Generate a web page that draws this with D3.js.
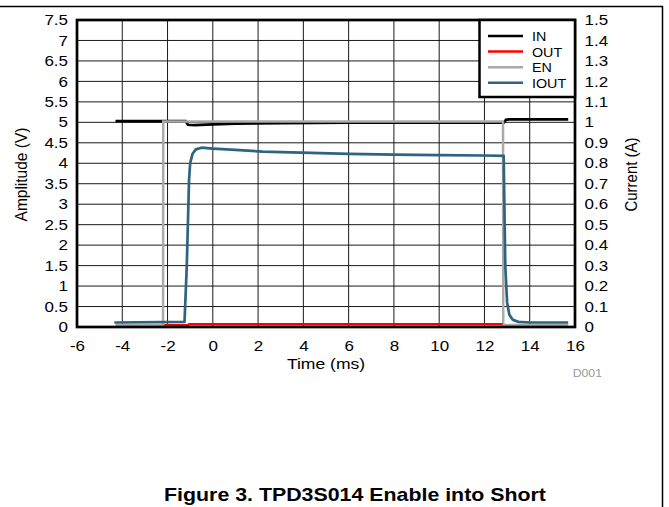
<!DOCTYPE html>
<html><head><meta charset="utf-8">
<script src="https://cdn.jsdelivr.net/npm/d3@7"></script>
<style>
body{margin:0;background:#fff;}
svg, svg text{font-family:"Liberation Sans", Arial, sans-serif;}
</style></head>
<body><svg id="c" width="669" height="507"></svg>
<script>
// ---- data ----
const xTicks = [-6,-4,-2,0,2,4,6,8,10,12,14,16];
const yLeftTicks = [0,0.5,1,1.5,2,2.5,3,3.5,4,4.5,5,5.5,6,6.5,7,7.5];
const yRightTicks = [0,0.1,0.2,0.3,0.4,0.5,0.6,0.7,0.8,0.9,1,1.1,1.2,1.3,1.4,1.5];
const seriesNames = ["IN","OUT","EN","IOUT"];
const seriesColors = ["#000000","#ff0000","#aaaaaa","#2e6480"];

const tIN  = [-4.3,-1.2,-1.1,-0.8,0,1,3,6,10,12.85,12.95,13.1,15.7];
const vIN  = [5.03,5.03,4.94,4.93,4.95,4.97,4.98,4.99,4.99,4.99,5.06,5.07,5.07];
const tEN  = [-4.3,-2.2,-2.19,12.82,12.83,15.7];
const vEN  = [0.05,0.05,5.02,5.02,0.05,0.05];
const tOUT = [-2.15,-1.1,-1.05,12.8];
const vOUT = [0.04,0.04,0.07,0.07];
const tIOUT = [-4.35,-1.25,-1.15,-1.05,-1.0,-0.9,-0.75,-0.5,0,0.8,2.2,3.9,6,8,10,12,12.85,12.88,12.92,13.0,13.1,13.25,13.5,14,15,15.7];
const vIOUT = [0.022,0.025,0.3,0.72,0.8,0.845,0.868,0.876,0.872,0.867,0.857,0.852,0.846,0.842,0.84,0.838,0.836,0.6,0.3,0.12,0.06,0.035,0.025,0.022,0.022,0.022];

// ---- layout ----
const FONT = "Liberation Sans, Arial, sans-serif";
const SX = 1.17; // horizontal stretch of the original figure's text
const svg = d3.select("#c").attr("font-family",FONT);
const L=77,R=575,T=20,B=327;
const x = d3.scaleLinear().domain([-6,16]).range([L,R]);
const yL = d3.scaleLinear().domain([0,7.5]).range([B,T]);
const yR = d3.scaleLinear().domain([0,1.5]).range([B,T]);

function stretch(sel, s){
  sel.each(function(){
    const t = d3.select(this);
    const xx = +t.attr("x")||0, yy = +t.attr("y")||0;
    t.attr("x",0).attr("y",0).attr("transform",`translate(${xx},${yy}) scale(${s},1)`);
  });
}

// figure frame
svg.append("line").attr("x1",0).attr("x2",663).attr("y1",6.5).attr("y2",6.5).attr("stroke","#000").attr("stroke-width",1.5);
svg.append("line").attr("x1",662.5).attr("x2",662.5).attr("y1",6).attr("y2",507).attr("stroke","#000").attr("stroke-width",1.5);

// grid
const grid = svg.append("g").attr("stroke","#1a1a1a").attr("stroke-width",1);
grid.selectAll("line.v").data(xTicks.slice(1,-1)).join("line")
  .attr("x1",d=>x(d)).attr("x2",d=>x(d)).attr("y1",T).attr("y2",B);
grid.selectAll("line.h").data(yLeftTicks.slice(1,-1)).join("line")
  .attr("x1",L).attr("x2",R).attr("y1",d=>yL(d)).attr("y2",d=>yL(d));

// axes (labels)
const fs = 14.5;
function styleAxis(g){
  g.attr("font-family",FONT).attr("font-size",fs);
  g.select(".domain").remove();
  g.selectAll("text").attr("fill","#000").style("font-family",FONT).style("font-size",fs+"px");
  stretch(g.selectAll("text"), SX);
}
const fmt = d=>String(d);
svg.append("g").attr("transform",`translate(0,${B})`)
  .call(d3.axisBottom(x).tickValues(xTicks).tickSize(0).tickPadding(14).tickFormat(fmt)).call(styleAxis);
svg.append("g").attr("transform",`translate(${L},0)`)
  .call(d3.axisLeft(yL).tickValues(yLeftTicks).tickSize(0).tickPadding(9).tickFormat(fmt)).call(styleAxis);
svg.append("g").attr("transform",`translate(${R},0)`)
  .call(d3.axisRight(yR).tickValues(yRightTicks).tickSize(0).tickPadding(9.5).tickFormat(fmt)).call(styleAxis);

// titles
const tt = svg.append("text").attr("x",(L+R)/2).attr("y",369).attr("text-anchor","middle").style("font-size","15px").text("Time (ms)");
stretch(tt, SX);
svg.append("text").attr("transform",`translate(27,${174.5}) rotate(-90) scale(1,1.08)`).attr("text-anchor","middle").style("font-size","15.5px").text("Amplitude (V)");
svg.append("text").attr("transform",`translate(637,${174.5}) rotate(-90) scale(1,1.08)`).attr("text-anchor","middle").style("font-size","15px").text("Current (A)");
const dd = svg.append("text").attr("x",602).attr("y",377).attr("text-anchor","end").style("font-size","10.5px").attr("fill","#999").text("D001");
stretch(dd, SX);
const ft = svg.append("text").attr("x",355).attr("y",501).attr("text-anchor","middle").style("font-size","17.5px").attr("font-weight","bold").text("Figure 3. TPD3S014 Enable into Short");
stretch(ft, 1.22);

// series
const plot = svg.append("g");
const lineL = d3.line().x(d=>x(d[0])).y(d=>yL(d[1]));
const lineR = d3.line().x(d=>x(d[0])).y(d=>yR(d[1]));
const zip=(a,b)=>a.map((t,i)=>[t,b[i]]);
plot.append("path").datum(zip(tIN,vIN)).attr("d",lineL).attr("fill","none").attr("stroke",seriesColors[0]).attr("stroke-width",2.7);
plot.append("path").datum(zip(tEN,vEN)).attr("d",lineL).attr("fill","none").attr("stroke",seriesColors[2]).attr("stroke-width",2.5);
plot.append("path").datum(zip(tOUT,vOUT)).attr("d",lineL).attr("fill","none").attr("stroke",seriesColors[1]).attr("stroke-width",2.5);
plot.append("path").datum(zip(tIOUT,vIOUT)).attr("d",lineR).attr("fill","none").attr("stroke",seriesColors[3]).attr("stroke-width",2.7).attr("stroke-linejoin","round");

// plot border
svg.append("rect").attr("x",L).attr("y",T).attr("width",R-L).attr("height",B-T).attr("fill","none").attr("stroke","#000").attr("stroke-width",2.7);

// legend
const lg = svg.append("g");
lg.append("rect").attr("x",479.5).attr("y",T).attr("width",R-479.5).attr("height",77).attr("fill","#fff").attr("stroke","#000").attr("stroke-width",2.5);
const items = lg.selectAll("g.it").data(seriesNames).join("g").attr("transform",(d,i)=>`translate(0,${36+i*15.6})`);
items.append("line").attr("x1",488).attr("x2",523).attr("y1",0).attr("y2",0).attr("stroke",(d,i)=>seriesColors[i]).attr("stroke-width",2.5);
const lt = items.append("text").attr("x",532).attr("y",5).style("font-size","13px").text(d=>d);
stretch(lt, 1.1);
</script>
</body></html>
